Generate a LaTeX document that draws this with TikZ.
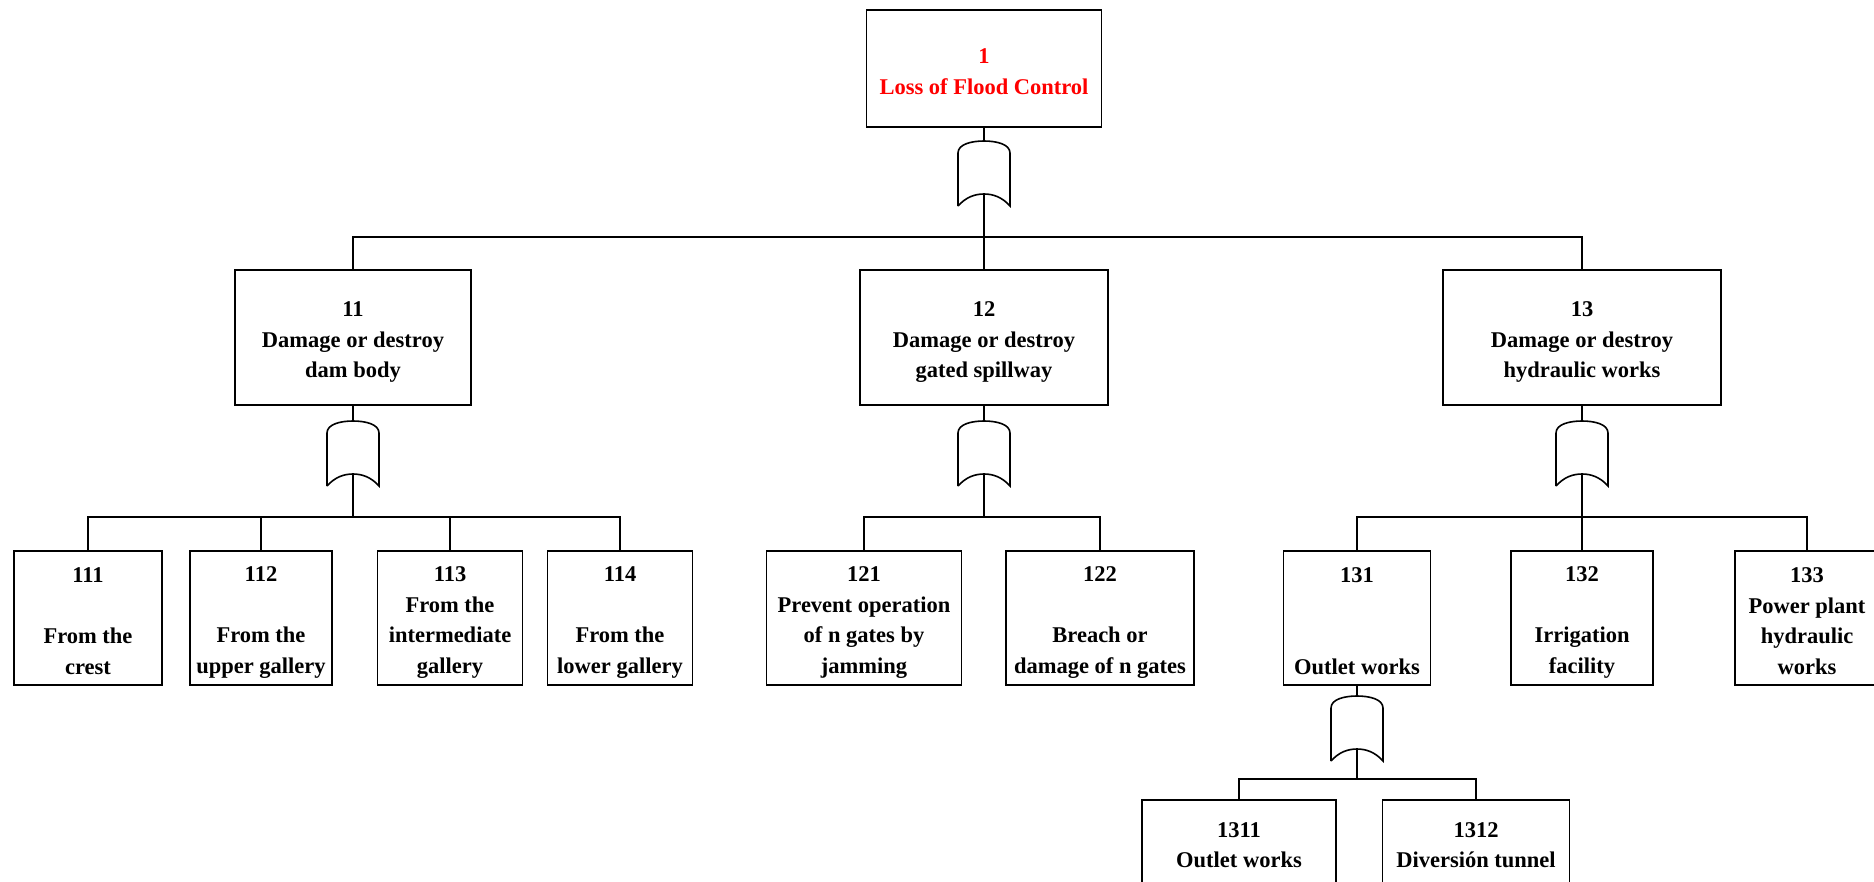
\documentclass[tikz,border=0pt]{standalone}
\usepackage{fontspec}
\setmainfont{Liberation Serif}
\newcommand\ls{\rule[-3.25pt]{0pt}{27.25pt}}
\begin{document}
\begin{tikzpicture}[x=1pt,y=-1pt,line width=1.6pt,
  event/.style={draw,rectangle,inner sep=0pt,align=center,
    font=\fontsize{22.5}{30.5}\selectfont\bfseries},
  orgate/.pic={
    \draw (-26,65) -- (-26,12) .. controls (-26,3) and (-12,0) .. (0,0)
      .. controls (12,0) and (26,3) .. (26,12) -- (26,65)
      .. controls (18,56) and (9,53) .. (0,53)
      .. controls (-9,53) and (-18,56) .. (-26,65);
    \coordinate (-top) at (0,0);
    \coordinate (-out) at (0,53);
  }]
\useasboundingbox (0,0) rectangle (1874,881);
\clip (0,0) rectangle (1874,881);

% top event
\node[event,minimum width=235pt,minimum height=117pt,text=red] (b1) at (984,68.5)
  {\ls 1\\Loss of Flood Control\ls};
\pic (g1) at (984,141) {orgate};

% second level
\node[event,minimum width=236pt,minimum height=135pt] (b11) at (353,337.5)
  {\ls 11\\Damage or destroy\\dam body\ls};
\node[event,minimum width=248pt,minimum height=135pt] (b12) at (984,337.5)
  {\ls 12\\Damage or destroy\\gated spillway\ls};
\node[event,minimum width=278pt,minimum height=135pt] (b13) at (1582,337.5)
  {\ls 13\\Damage or destroy\\hydraulic works\ls};
\coordinate (bar1) at (984,237);
\draw (b1.south) -- (g1-top);
\draw (g1-out) -- (b12.north);
\draw (b11.north) |- (bar1) -| (b13.north);

% gates below the second level
\pic (g11) at (353,421) {orgate};
\pic (g12) at (984,421) {orgate};
\pic (g13) at (1582,421) {orgate};
\draw (b11.south) -- (g11-top);
\draw (b12.south) -- (g12-top);
\draw (b13.south) -- (g13-top);

% third level
\node[event,minimum width=148pt,minimum height=134pt] (b111) at (88,618)
  {\ls 111\\\mbox{}\\From the\\crest\ls};
\node[event,minimum width=142pt,minimum height=134pt] (b112) at (261,618)
  {\ls 112\\\mbox{}\\From the\\upper gallery\ls};
\node[event,minimum width=145pt,minimum height=134pt] (b113) at (450,618)
  {\ls 113\\From the\\intermediate\\gallery\ls};
\node[event,minimum width=145pt,minimum height=134pt] (b114) at (620,618)
  {\ls 114\\\mbox{}\\From the\\lower gallery\ls};
\node[event,minimum width=195pt,minimum height=134pt] (b121) at (864,618)
  {\ls 121\\Prevent operation\\of n gates by\\jamming\ls};
\node[event,minimum width=188pt,minimum height=134pt] (b122) at (1100,618)
  {\ls 122\\\mbox{}\\Breach or\\damage of n gates\ls};
\node[event,minimum width=147pt,minimum height=134pt] (b131) at (1357,618)
  {\ls 131\\\mbox{}\\\mbox{}\\Outlet works\ls};
\node[event,minimum width=142pt,minimum height=134pt] (b132) at (1582,618)
  {\ls 132\\\mbox{}\\Irrigation\\facility\ls};
\node[event,minimum width=144pt,minimum height=134pt] (b133) at (1807,618)
  {\ls 133\\Power plant\\hydraulic\\works\ls};

\coordinate (bar11) at (353,517);
\coordinate (bar12) at (984,517);
\coordinate (bar13) at (1582,517);
\draw (g11-out) -- (bar11);
\draw (b111.north) |- (bar11) -| (b114.north);
\draw (b112.north) -- (b112.north |- bar11);
\draw (b113.north) -- (b113.north |- bar11);
\draw (g12-out) -- (bar12);
\draw (b121.north) |- (bar12) -| (b122.north);
\draw (g13-out) -- (b132.north);
\draw (b131.north) |- (bar13) -| (b133.north);

% fourth level
\pic (g131) at (1357,696) {orgate};
\draw (b131.south) -- (g131-top);
\node[event,minimum width=194pt,minimum height=145pt] (b1311) at (1239,872.5)
  {\ls 1311\\Outlet works\\\mbox{}\\\mbox{}\ls};
\node[event,minimum width=187pt,minimum height=145pt] (b1312) at (1476,872.5)
  {\ls 1312\\Diversión tunnel\\\mbox{}\\\mbox{}\ls};
\coordinate (bar131) at (1357,779);
\draw (g131-out) -- (bar131);
\draw (b1311.north) |- (bar131) -| (b1312.north);
\end{tikzpicture}
\end{document}
